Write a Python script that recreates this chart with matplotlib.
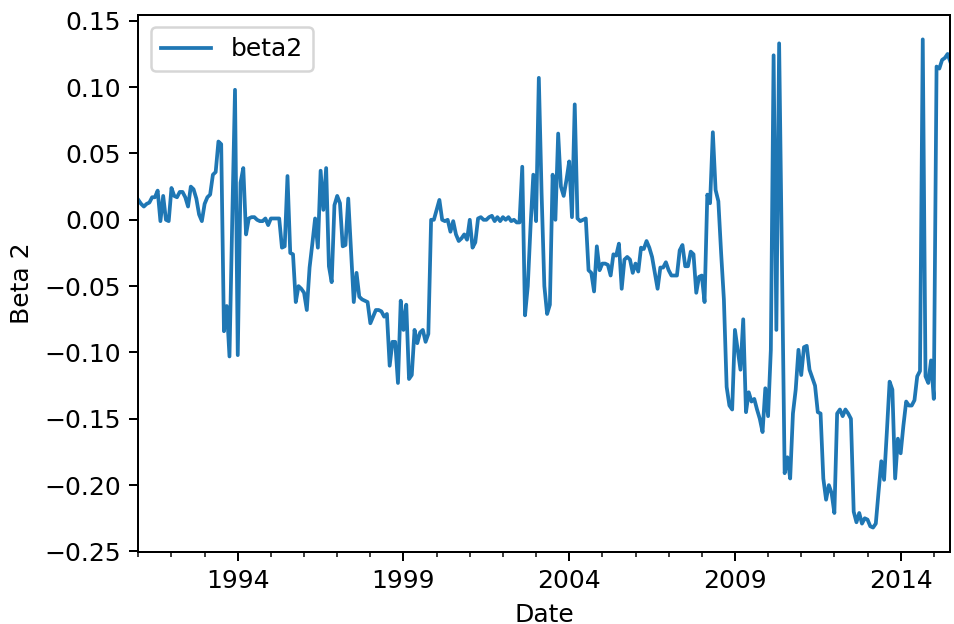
import matplotlib
matplotlib.use('Agg')
import matplotlib.pyplot as plt
import pandas as pd

# monthly beta2 estimates, first month below
START = '1991-01'

beta2 = [
    # 1991
    0.015, 0.012, 0.010, 0.012, 0.013, 0.017, 0.017, 0.022, -0.001, 0.018, 0.000, -0.001,
    # 1992
    0.024, 0.018, 0.017, 0.021, 0.021, 0.017, 0.010, 0.025, 0.023, 0.016, 0.004, -0.001,
    # 1993
    0.012, 0.017, 0.019, 0.034, 0.036, 0.059, 0.057, -0.084, -0.065, -0.103, 0.000, 0.098,
    # 1994
    -0.102, 0.028, 0.039, -0.011, 0.001, 0.002, 0.002, 0.000, -0.001, -0.001, 0.001, -0.004,
    # 1995
    0.001, 0.001, 0.001, 0.001, -0.021, -0.020, 0.033, -0.025, -0.026, -0.062, -0.050, -0.052,
    # 1996
    -0.055, -0.068, -0.036, -0.018, 0.001, -0.021, 0.037, 0.0075, 0.039, -0.035, -0.047, 0.011,
    # 1997
    0.018, 0.0125, -0.020, -0.019, 0.016, -0.023, -0.062, -0.040, -0.058, -0.060, -0.061, -0.062,
    # 1998
    -0.078, -0.073, -0.068, -0.068, -0.069, -0.073, -0.071, -0.110, -0.092, -0.092, -0.123, -0.061,
    # 1999
    -0.083, -0.064, -0.120, -0.117, -0.083, -0.093, -0.085, -0.083, -0.092, -0.086, 0.000, 0.000,
    # 2000
    0.0075, 0.015, 0.000, -0.001, 0.000, -0.009, -0.001, -0.011, -0.016, -0.014, -0.011, -0.015,
    # 2001
    0.000, -0.021, -0.017, 0.001, 0.002, 0.000, 0.000, 0.002, 0.003, -0.001, 0.002, -0.001,
    # 2002
    0.002, 0.000, 0.002, -0.001, 0.000, -0.002, -0.002, 0.040, -0.072, -0.050, -0.005, 0.034,
    # 2003
    -0.001, 0.107, 0.020, -0.050, -0.071, -0.064, 0.034, 0.000, 0.065, 0.025, 0.018, 0.030,
    # 2004
    0.044, 0.002, 0.087, 0.001, -0.001, 0.000, 0.001, -0.038, -0.040, -0.054, -0.020, -0.038,
    # 2005
    -0.033, -0.033, -0.034, -0.042, -0.026, -0.027, -0.018, -0.052, -0.030, -0.028, -0.030, -0.040,
    # 2006
    -0.033, -0.039, -0.021, -0.022, -0.016, -0.021, -0.028, -0.040, -0.052, -0.036, -0.036, -0.032,
    # 2007
    -0.038, -0.042, -0.042, -0.042, -0.023, -0.019, -0.035, -0.035, -0.024, -0.026, -0.055, -0.043,
    # 2008
    -0.042, -0.062, 0.019, 0.0125, 0.066, 0.0225, 0.014, -0.025, -0.060, -0.126, -0.140, -0.143,
    # 2009
    -0.083, -0.098, -0.113, -0.075, -0.145, -0.130, -0.137, -0.135, -0.143, -0.150, -0.160, -0.127,
    # 2010
    -0.148, -0.098, 0.124, -0.083, 0.133, -0.030, -0.191, -0.179, -0.195, -0.146, -0.128, -0.098,
    # 2011
    -0.117, -0.096, -0.095, -0.113, -0.119, -0.125, -0.145, -0.146, -0.195, -0.211, -0.200, -0.206,
    # 2012
    -0.221, -0.146, -0.143, -0.148, -0.143, -0.146, -0.150, -0.220, -0.228, -0.221, -0.229, -0.225,
    # 2013
    -0.226, -0.231, -0.232, -0.229, -0.205, -0.182, -0.196, -0.160, -0.122, -0.128, -0.195, -0.165,
    # 2014
    -0.176, -0.155, -0.137, -0.140, -0.140, -0.136, -0.118, -0.114, 0.136, -0.118, -0.123, -0.106,
    # 2015
    -0.135, 0.1155, 0.114, 0.1205, 0.122, 0.125, 0.119,
]

dates = pd.period_range(START, periods=len(beta2), freq='M')
df = pd.DataFrame({'beta2': beta2}, index=dates)

fig, ax = plt.subplots(figsize=(5.3, 3.4667), dpi=180)
df.plot(ax=ax)
ax.set_xlabel('Date')
ax.set_ylabel('Beta 2')
ax.legend(loc='upper left')

fig.subplots_adjust(left=0.145, right=0.9962, top=0.976, bottom=0.1154)
fig.savefig('out.png', dpi=180)
